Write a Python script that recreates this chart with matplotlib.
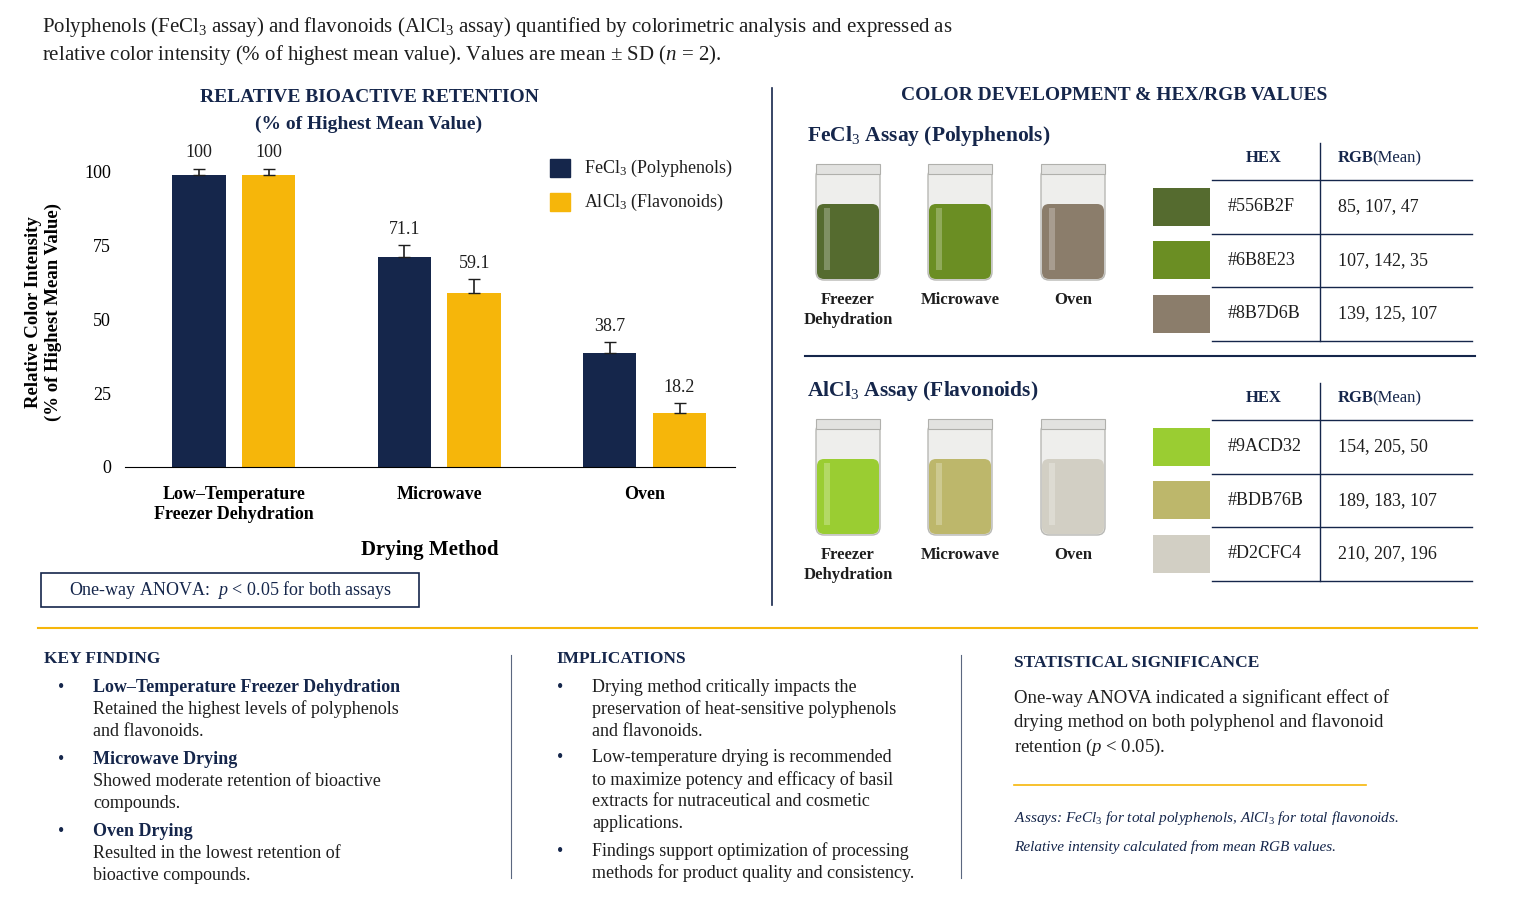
import numpy as np
import matplotlib.pyplot as plt
from matplotlib.patches import Rectangle, FancyBboxPatch

plt.rcParams['font.family'] = ['Liberation Serif', 'DejaVu Serif']
plt.rcParams['mathtext.fontset'] = 'custom'
plt.rcParams['mathtext.rm'] = 'Liberation Serif'
plt.rcParams['mathtext.it'] = 'Liberation Serif:italic'

NAVY = '#15264b'
GOLD = '#f6b60a'
TXT = '#1e1e1e'

methods = ['Low\u2013Temperature\nFreezer Dehydration', 'Microwave', 'Oven']
fecl3 = [99, 71.1, 38.7]
alcl3 = [99, 59.1, 18.2]
fecl3_lab = ['100', '71.1', '38.7']
alcl3_lab = ['100', '59.1', '18.2']
fecl3_sd = [2.0, 4.0, 3.5]
alcl3_sd = [2.0, 4.5, 3.5]

jar_labels = ['Freezer\nDehydration', 'Microwave', 'Oven']
poly_hex = ['#556B2F', '#6B8E23', '#8B7D6B']
poly_rgb = ['85, 107, 47', '107, 142, 35', '139, 125, 107']
flav_hex = ['#9ACD32', '#BDB76B', '#D2CFC4']
flav_rgb = ['154, 205, 50', '189, 183, 107', '210, 207, 196']

W, H = 1519, 906
fig = plt.figure(figsize=(W / 100, H / 100), dpi=100)

ov = fig.add_axes([0, 0, 1, 1])
ov.set_xlim(0, W)
ov.set_ylim(H, 0)
ov.axis('off')

# bar chart
l, r, b, t = 125, 735, 467, 157
ax = fig.add_axes([l / W, 1 - b / H, (r - l) / W, (b - t) / H])
x = np.arange(len(methods))
off, bw = 0.17, 0.26
ax.bar(x - off, fecl3, bw, color=NAVY)
ax.bar(x + off, alcl3, bw, color=GOLD)
ax.errorbar(x - off, fecl3, yerr=[[0] * 3, fecl3_sd], fmt='none', ecolor=TXT, capsize=4, lw=1.2)
ax.errorbar(x + off, alcl3, yerr=[[0] * 3, alcl3_sd], fmt='none', ecolor=TXT, capsize=4, lw=1.2)
for xi, v, s, lab in zip(x, fecl3, fecl3_sd, fecl3_lab):
    ax.text(xi - off, v + s + 2.5, lab, ha='center', va='bottom', fontsize=13, color=TXT)
for xi, v, s, lab in zip(x, alcl3, alcl3_sd, alcl3_lab):
    ax.text(xi + off, v + s + 2.5, lab, ha='center', va='bottom', fontsize=13, color=TXT)
ax.set_xlim(-0.53, 2.44)
ax.set_ylim(0, 105)
ax.set_yticks([0, 25, 50, 75, 100])
ax.tick_params(axis='y', labelsize=13, length=0, pad=10)
ax.set_xticks(x)
ax.set_xticklabels(methods, fontsize=13, fontweight='bold')
ax.tick_params(axis='x', length=0, pad=14)
for sp in ['top', 'right', 'left']:
    ax.spines[sp].set_visible(False)
ax.set_ylabel('Relative Color Intensity\n(% of Highest Mean Value)', fontsize=13.5,
              fontweight='bold', labelpad=16)
ax.set_xlabel('Drying Method', fontsize=15, fontweight='bold', labelpad=12)
ax.patch.set_alpha(0)

ov.text(42, 27, 'Polyphenols (FeCl$_3$ assay) and flavonoids (AlCl$_3$ assay) quantified by colorimetric analysis and expressed as',
        fontsize=15, color=TXT, va='center')
ov.text(42, 55, 'relative color intensity (% of highest mean value). Values are mean \u00b1 SD ($n$ = 2).',
        fontsize=15, color=TXT, va='center')
ov.text(369, 97, 'RELATIVE BIOACTIVE RETENTION', fontsize=14, fontweight='bold', color=NAVY, ha='center', va='center')
ov.text(369, 124, '(% of Highest Mean Value)', fontsize=14, fontweight='bold', color=NAVY, ha='center', va='center')

ov.add_patch(Rectangle((550, 159), 20, 18, color=NAVY))
ov.add_patch(Rectangle((550, 193), 20, 18, color=GOLD))
ov.text(584, 168, 'FeCl$_3$ (Polyphenols)', fontsize=13, va='center', color=TXT)
ov.text(584, 202, 'AlCl$_3$ (Flavonoids)', fontsize=13, va='center', color=TXT)

ov.add_patch(Rectangle((41, 573), 378, 34, fill=False, ec=NAVY, lw=1.2))
ov.text(230, 590, 'One-way ANOVA:  $p$ < 0.05 for both assays', fontsize=13, color=NAVY, ha='center', va='center')

ov.plot([772, 772], [88, 605], color=NAVY, lw=1.2)
ov.plot([38, 1477], [628, 628], color=GOLD, lw=1.5)
ov.plot([805, 1475], [356, 356], color=NAVY, lw=1.5)
for xs in [511, 961]:
    ov.plot([xs, xs], [655, 878], color=NAVY, lw=0.8, alpha=0.7)

ov.text(1114, 95, 'COLOR DEVELOPMENT & HEX/RGB VALUES', fontsize=14, fontweight='bold', color=NAVY, ha='center', va='center')


def panel(ytop, hy, title, hexes, rgbs):
    ov.text(807, ytop - 32, title, fontsize=15.5, fontweight='bold', color=NAVY, va='center')
    for cx, lab, hx in zip([848, 960, 1073], jar_labels, hexes):
        ov.add_patch(FancyBboxPatch((cx - 32, ytop), 64, 112, boxstyle='round,pad=0,rounding_size=8',
                                    fc='#eeeeec', ec='#b8b8b4', lw=1))
        ov.add_patch(FancyBboxPatch((cx - 31, ytop + 36), 62, 75, boxstyle='round,pad=0,rounding_size=7',
                                    fc=hx, ec='none'))
        ov.add_patch(Rectangle((cx - 32, ytop - 4), 64, 10, fc='#e2e2e0', ec='#b0b0ac', lw=0.8))
        ov.add_patch(Rectangle((cx - 24, ytop + 40), 6, 62, fc='white', ec='none', alpha=0.25))
        ov.text(cx, ytop + 124, lab, fontsize=12, fontweight='bold', color=TXT, ha='center', va='top',
                linespacing=1.3)
    ov.text(1264, hy, 'HEX', fontsize=12, fontweight='bold', color=NAVY, ha='center', va='center')
    ov.text(1338, hy, 'RGB', fontsize=12, fontweight='bold', color=NAVY, va='center')
    ov.text(1372, hy, '(Mean)', fontsize=12, color=NAVY, va='center')
    y0 = hy + 22
    rh = 53.5
    ov.plot([1320, 1320], [hy - 15, y0 + 3 * rh], color=NAVY, lw=1)
    for k in range(4):
        ov.plot([1212, 1472], [y0 + k * rh] * 2, color=NAVY, lw=1)
    for k, (hx, rgb) in enumerate(zip(hexes, rgbs)):
        cy = y0 + (k + 0.5) * rh
        ov.add_patch(Rectangle((1153, cy - 19), 57, 38, fc=hx, ec='none'))
        ov.text(1228, cy, hx, fontsize=13, color=TXT, va='center')
        ov.text(1338, cy, rgb, fontsize=13, color=TXT, va='center')


panel(168, 158, 'FeCl$_3$ Assay (Polyphenols)', poly_hex, poly_rgb)
panel(423, 398, 'AlCl$_3$ Assay (Flavonoids)', flav_hex, flav_rgb)

ov.text(44, 659, 'KEY FINDING', fontsize=12.5, fontweight='bold', color=NAVY, va='center')
ov.text(556, 659, 'IMPLICATIONS', fontsize=12.5, fontweight='bold', color=NAVY, va='center')
ov.text(1014, 663, 'STATISTICAL SIGNIFICANCE', fontsize=12.5, fontweight='bold', color=NAVY, va='center')

items = [(687, 'Low\u2013Temperature Freezer Dehydration', ['Retained the highest levels of polyphenols', 'and flavonoids.']),
         (759, 'Microwave Drying', ['Showed moderate retention of bioactive', 'compounds.']),
         (832, 'Oven Drying', ['Resulted in the lowest retention of', 'bioactive compounds.'])]
for y, head, lines in items:
    ov.text(58, y, '\u2022', fontsize=13, color=NAVY, va='center')
    ov.text(93, y, head, fontsize=13, fontweight='bold', color=NAVY, va='center')
    for j, ln in enumerate(lines):
        ov.text(93, y + 22 * (j + 1), ln, fontsize=13, color=TXT, va='center')

imps = [(687, ['Drying method critically impacts the', 'preservation of heat-sensitive polyphenols', 'and flavonoids.']),
        (758, ['Low-temperature drying is recommended', 'to maximize potency and efficacy of basil',
               'extracts for nutraceutical and cosmetic', 'applications.']),
        (851, ['Findings support optimization of processing', 'methods for product quality and consistency.'])]
for y, lines in imps:
    ov.text(557, y, '\u2022', fontsize=13, color=NAVY, va='center')
    for j, ln in enumerate(lines):
        ov.text(592, y + 22 * j, ln, fontsize=13, color=TXT, va='center')

stat = ['One-way ANOVA indicated a significant effect of', 'drying method on both polyphenol and flavonoid',
        'retention ($p$ < 0.05).']
for j, ln in enumerate(stat):
    ov.text(1014, 698 + 24.5 * j, ln, fontsize=13.5, color=TXT, va='center')
ov.plot([1014, 1366], [785, 785], color=GOLD, lw=1.2)
ov.text(1014, 818, 'Assays: FeCl$_3$ for total polyphenols, AlCl$_3$ for total flavonoids.',
        fontsize=11, style='italic', color=NAVY, va='center')
ov.text(1014, 847, 'Relative intensity calculated from mean RGB values.',
        fontsize=11, style='italic', color=NAVY, va='center')

fig.savefig('out.png', dpi=100)
